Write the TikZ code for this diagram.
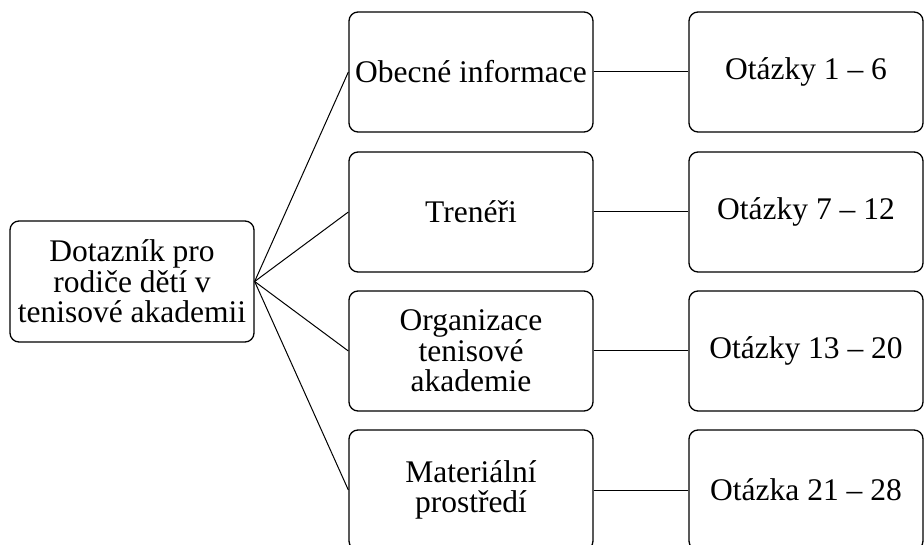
\documentclass[tikz,border=0pt]{standalone}
\usepackage{fontspec}
\setmainfont{Liberation Serif}
\begin{document}
\begin{tikzpicture}[x=1pt,y=-1pt,
  box/.style={draw=black, line width=1.3pt, rounded corners=9pt, align=center,
    inner sep=0pt, font=\fontsize{31.5}{30.5}\selectfont},
  midbox/.style={box, minimum width=244pt, minimum height=120pt},
  rightbox/.style={box, minimum width=234pt, minimum height=120pt},
  link/.style={draw=black, line width=1pt}]
\clip (0,0) rectangle (924,545);
\useasboundingbox (0,0) rectangle (924,545);
\node[box, minimum width=244pt, minimum height=121pt] (root) at (132,281.5)
  {Dotazník pro\\rodiče dětí v\\tenisové akademii};
\node[midbox] (m1) at (471,72) {Obecné informace};
\node[midbox] (m2) at (471,212) {Trenéři};
\node[midbox] (m3) at (471,351) {Organizace\\tenisové\\akademie};
\node[midbox] (m4) at (471,490) {Materiální\\prostředí};
\node[rightbox] (r1) at (806,72) {Otázky 1 – 6};
\node[rightbox] (r2) at (806,212) {Otázky 7 – 12};
\node[rightbox] (r3) at (806,351) {Otázky 13 – 20};
\node[rightbox] (r4) at (806,490) {Otázka 21 – 28};
\foreach \i in {1,2,3,4} {
  \draw[link] (root.east) -- (m\i.west);
  \draw[link] (m\i.east) -- (r\i.west);
}
\end{tikzpicture}
\end{document}
